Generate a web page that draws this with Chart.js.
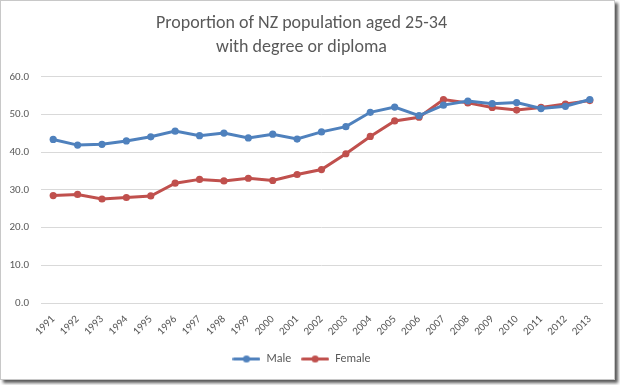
<!DOCTYPE html>
<html>
<head>
<meta charset="utf-8">
<script src="https://cdn.jsdelivr.net/npm/chart.js@4"></script>
<style>
  html, body { margin: 0; padding: 0; background: #ffffff; }
  #frame {
    position: absolute; left: 0; top: 0;
    width: 613px; height: 378px;
    border: 1px solid #c8c8c8;
    box-shadow: 3px 3px 3px rgba(0,0,0,0.65);
    background: #fff;
  }
  canvas { display: block; }
</style>
</head>
<body>
<div id="frame"><canvas id="c" width="613" height="378"></canvas></div>
<script>
const years = ["1991","1992","1993","1994","1995","1996","1997","1998","1999","2000","2001","2002","2003","2004","2005","2006","2007","2008","2009","2010","2011","2012","2013"];
const male =   [43.4, 41.9, 42.1, 43.0, 44.1, 45.6, 44.4, 45.1, 43.8, 44.8, 43.5, 45.4, 46.8, 50.6, 52.0, 49.7, 52.5, 53.6, 52.9, 53.2, 51.6, 52.2, 54.0];
const female = [28.5, 28.8, 27.6, 28.0, 28.4, 31.8, 32.8, 32.4, 33.1, 32.5, 34.1, 35.4, 39.6, 44.2, 48.3, 49.3, 54.0, 53.1, 51.9, 51.2, 51.9, 52.8, 53.7];
const titleLines = ["Proportion of NZ population aged 25-34", "with degree or diploma"];
const yTicks = { min: 0, max: 60, step: 10 };

const BLUE = "#4F81BD", RED = "#C0504D", GREY = "#595959";
const FONT = "Carlito, Calibri, Lato, 'Open Sans', sans-serif";

function legendIcon(color) {
  const cv = document.createElement("canvas");
  cv.width = 28; cv.height = 9;
  const g = cv.getContext("2d");
  g.strokeStyle = color; g.lineWidth = 3; g.lineCap = "round";
  g.beginPath(); g.moveTo(1.5, 4.5); g.lineTo(26.5, 4.5); g.stroke();
  g.fillStyle = color;
  g.beginPath(); g.arc(14, 4.5, 3.6, 0, Math.PI * 2); g.fill();
  return cv;
}

new Chart(document.getElementById("c"), {
  type: "line",
  data: {
    labels: years,
    datasets: [
      { label: "Male", data: male, borderColor: BLUE, backgroundColor: BLUE,
        borderWidth: 3, pointRadius: 3.6, pointBorderWidth: 0, pointHoverRadius: 3.6, tension: 0 },
      { label: "Female", data: female, borderColor: RED, backgroundColor: RED,
        borderWidth: 3, pointRadius: 3.6, pointBorderWidth: 0, pointHoverRadius: 3.6, tension: 0 }
    ]
  },
  options: {
    responsive: false,
    animation: false,
    layout: { padding: { left: 0, right: 12, top: 0, bottom: 4 } },
    plugins: {
      title: {
        display: true, text: titleLines, color: GREY,
        font: { family: FONT, size: 18, weight: "normal", lineHeight: 1.33 },
        padding: { top: 11, bottom: 17 }
      },
      legend: {
        position: "bottom",
        labels: {
          usePointStyle: true, pointStyleWidth: 28, boxHeight: 9,
          color: GREY, font: { family: FONT, size: 12 }, padding: 10,
          generateLabels: (chart) => chart.data.datasets.map((ds, i) => ({
            text: ds.label, pointStyle: legendIcon(ds.borderColor),
            fillStyle: ds.borderColor, strokeStyle: ds.borderColor,
            lineWidth: 0, hidden: false, datasetIndex: i, fontColor: GREY
          }))
        }
      },
      tooltip: { enabled: false }
    },
    scales: {
      x: {
        offset: true,
        grid: { display: false },
        border: { display: true, color: "#d9d9d9" },
        ticks: { color: GREY, font: { family: FONT, size: 11 }, minRotation: 45, maxRotation: 45, padding: 2, autoSkip: false },
        afterFit: (s) => { s.height = 40; }
      },
      y: {
        min: yTicks.min, max: yTicks.max,
        grid: { color: "#d9d9d9", drawTicks: false, lineWidth: 1 },
        border: { display: false },
        ticks: { stepSize: yTicks.step, color: GREY, font: { family: FONT, size: 11 }, padding: 12,
                 callback: (v) => Number(v).toFixed(1) },
        afterFit: (s) => { s.width = 40; }
      }
    }
  }
});
</script>
</body>
</html>
